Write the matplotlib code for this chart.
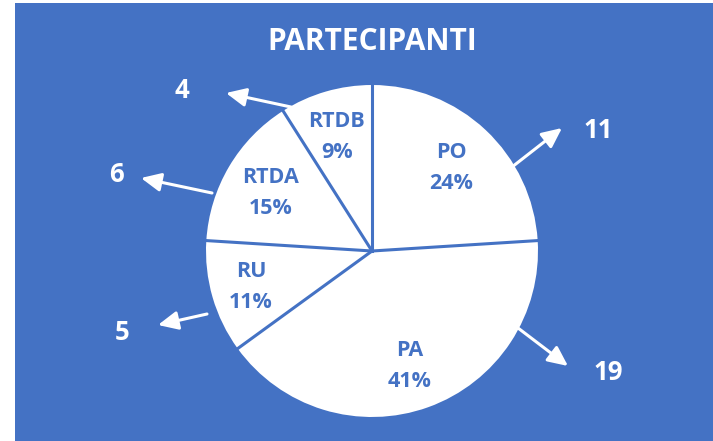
import numpy as np
import matplotlib.pyplot as plt
from matplotlib.patches import Rectangle

categories = ['PO', 'PA', 'RU', 'RTDA', 'RTDB']
percentages = [24, 41, 11, 15, 9]
counts = [11, 19, 5, 6, 4]

blue = '#4472C4'
W, H = 713, 441

fig = plt.figure(figsize=(W / 100, H / 100), dpi=100, facecolor='white')
ax = fig.add_axes([0, 0, 1, 1])

cx, cy, r = 372, H - 251, 166
wedges, _ = ax.pie(percentages, startangle=90, counterclock=False,
                   center=(cx, cy), radius=r, colors=['white'] * 5,
                   wedgeprops=dict(linewidth=0))
ax.set_xlim(0, W)
ax.set_ylim(0, H)
ax.set_aspect('equal')
ax.axis('off')

# blue panel behind the pie
ax.add_patch(Rectangle((15, 0), W - 15, H - 3, facecolor=blue,
                       edgecolor='none', zorder=-5))

# blue dividing lines between slices
ang = 90.0
for p in percentages:
    a = np.deg2rad(ang)
    ax.plot([cx, cx + r * np.cos(a)], [cy, cy + r * np.sin(a)],
            color=blue, lw=2.2, zorder=3)
    ang -= p * 3.6

font = 'Open Sans'
label_pos = [(451, 168), (410, 366), (251, 287), (271, 193), (337, 137)]
for name, pct, (x, y) in zip(categories, percentages, label_pos):
    ax.text(x, H - y, f'{name}\n{pct}%', ha='center', va='center',
            color=blue, fontsize=15.5, fontweight='bold', family=font,
            linespacing=1.6, zorder=4)

# callout numbers with arrows (start on pie edge, head towards the number)
count_pos = [(598, 130), (608, 373), (122, 333), (117, 174), (182, 91)]
arrows = [((512, 167), (562, 128)), ((518, 328), (568, 366)),
          ((207, 314), (158, 325)), ((212, 193), (141, 178)),
          ((291, 107), (226, 93))]
for c, (x, y), (s, e) in zip(counts, count_pos, arrows):
    ax.text(x, H - y, str(c), ha='center', va='center', color='white',
            fontsize=18.5, fontweight='bold', family=font)
    ax.annotate('', xy=(e[0], H - e[1]), xytext=(s[0], H - s[1]),
                arrowprops=dict(arrowstyle='-|>,head_length=0.6,head_width=0.28',
                                color='white', lw=2.2,
                                mutation_scale=20, shrinkA=0, shrinkB=0))

ax.text(372, H - 42, 'PARTECIPANTI', ha='center', va='center', color='white',
        fontsize=21.5, fontweight='bold', family=font)

fig.savefig('out.png', dpi=100, facecolor='white')
